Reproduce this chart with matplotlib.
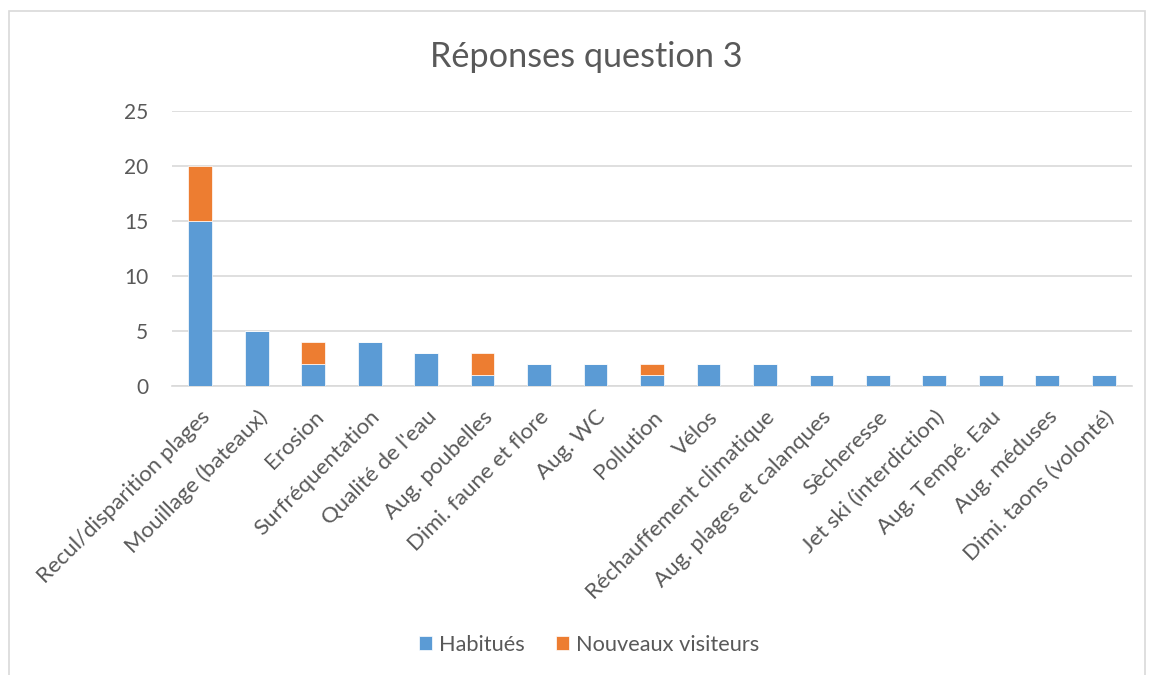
import numpy as np
import matplotlib.pyplot as plt
from matplotlib.patches import Rectangle

categories = ["Recul/disparition plages", "Mouillage (bateaux)", "Erosion",
              "Surfréquentation", "Qualité de l'eau", "Aug. poubelles",
              "Dimi. faune et flore", "Aug. WC", "Pollution", "Vélos",
              "Réchauffement climatique", "Aug. plages et calanques",
              "Sècheresse", "Jet ski (interdiction)", "Aug. Tempé. Eau",
              "Aug. méduses", "Dimi. taons (volonté)"]
habitues = [15, 5, 2, 4, 3, 1, 2, 2, 1, 2, 2, 1, 1, 1, 1, 1, 1]
nouveaux = [5, 0, 2, 0, 0, 2, 0, 0, 1, 0, 0, 0, 0, 0, 0, 0, 0]
yticks = [0, 5, 10, 15, 20, 25]

plt.rcParams['font.family'] = ['Lato', 'DejaVu Sans']
text_color = '#595959'
grid_color = '#d9d9d9'

fig = plt.figure(figsize=(11.51, 6.75), dpi=100)
# chart border like Excel
fig.patches.append(Rectangle((9 / 1151, -0.01), 1136 / 1151, 1 - 11 / 675 + 0.01,
                             transform=fig.transFigure, fill=False,
                             edgecolor=grid_color, linewidth=1.2))

ax = fig.add_axes([172 / 1151, 1 - 386 / 675, 960 / 1151, 275 / 675])
x = np.arange(len(categories))
ax.bar(x, habitues, width=0.42, color='#5B9BD5', edgecolor='white', linewidth=0.5,
       label='Habitués', zorder=3)
ax.bar(x, nouveaux, width=0.42, bottom=habitues, color='#ED7D31', edgecolor='white',
       linewidth=0.5, label='Nouveaux visiteurs', zorder=3)

ax.set_xlim(-0.5, len(categories) - 0.5)
ax.set_ylim(0, 25)
ax.set_yticks(yticks)
ax.set_xticks(x)
ax.set_xticklabels(categories, rotation=45, ha='right', rotation_mode='anchor')
ax.tick_params(axis='both', length=0, colors=text_color)
ax.tick_params(axis='y', pad=17, labelsize=15)
ax.tick_params(axis='x', pad=15, labelsize=16)
ax.grid(axis='y', color=grid_color, linewidth=1.2, zorder=0)
for s in ['top', 'right', 'left']:
    ax.spines[s].set_visible(False)
ax.spines['bottom'].set_color(grid_color)
ax.spines['bottom'].set_linewidth(1.2)

fig.text(586 / 1151, 1 - 57 / 675, 'Réponses question 3', ha='center', va='center',
         fontsize=24.7, color=text_color)

fig.legend(loc='center', bbox_to_anchor=(589 / 1151, 1 - 645 / 675), ncol=2,
           frameon=False, fontsize=15.7, labelcolor=text_color, handlelength=0.6,
           handleheight=0.6, columnspacing=1.4, handletextpad=0.35)

fig.savefig('out.png', dpi=100)
